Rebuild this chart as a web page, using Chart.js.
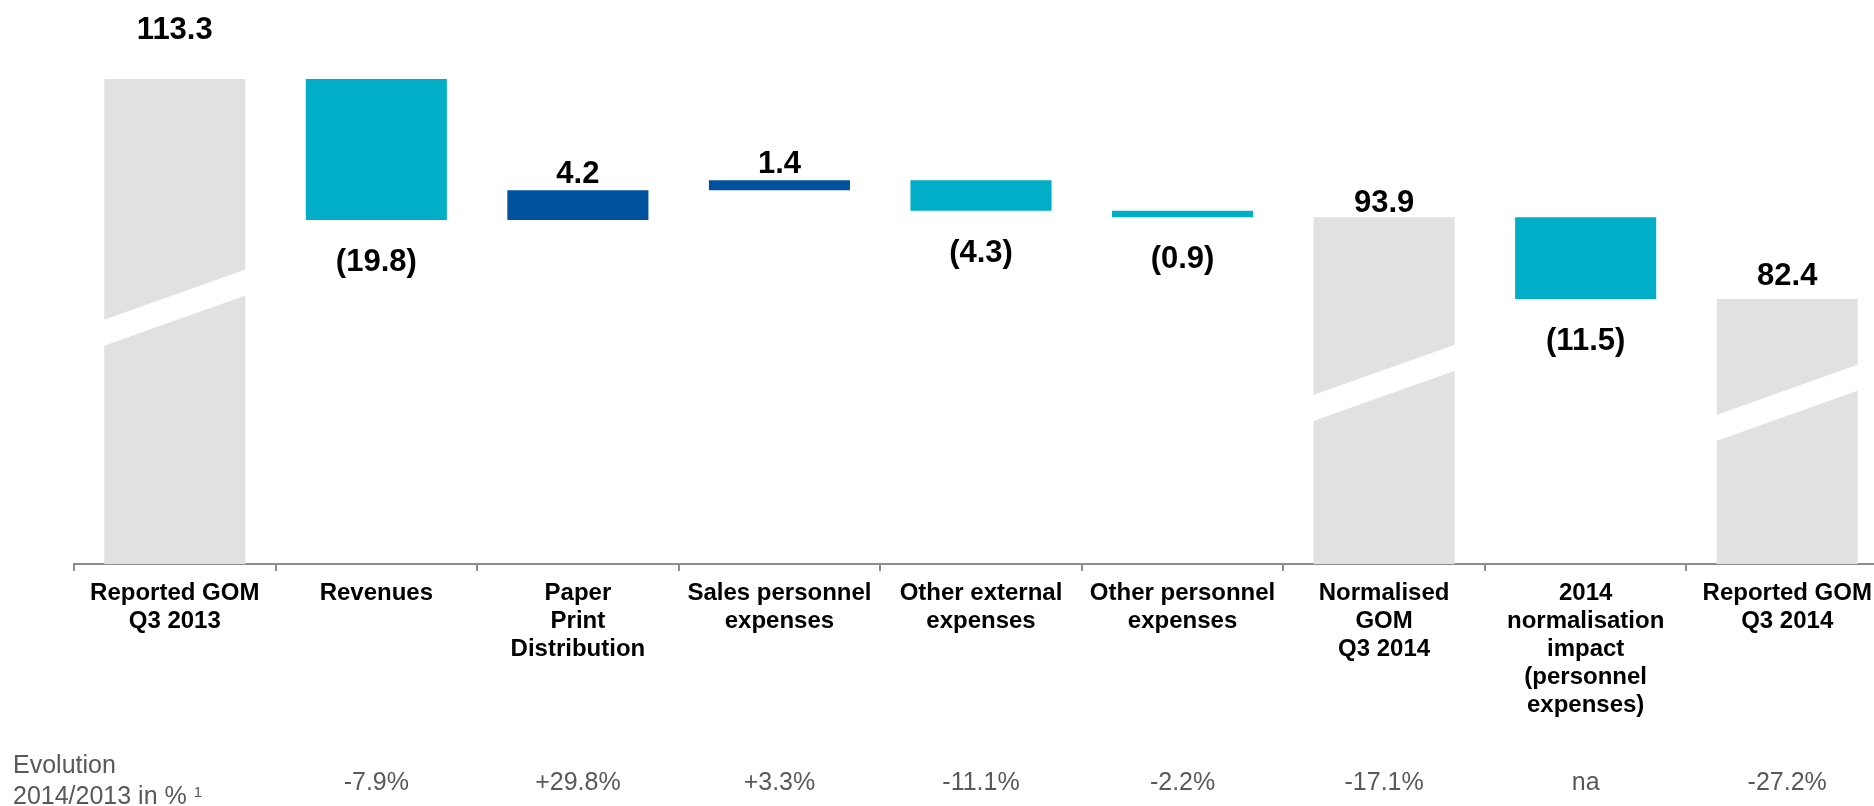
<!DOCTYPE html>
<html>
<head>
<meta charset="utf-8">
<script src="https://cdn.jsdelivr.net/npm/chart.js@4"></script>
<style>
  html, body { margin: 0; padding: 0; background: #fff; overflow: hidden; }
  #wrap { position: absolute; left: 0; top: 0; width: 1888px; height: 806px; }
</style>
</head>
<body>
<div id="wrap"><canvas id="chart"></canvas></div>
<script>
// Bridge categories (multi-line labels)
const categories = [
    ['Reported GOM', 'Q3 2013'],
    ['Revenues'],
    ['Paper', 'Print', 'Distribution'],
    ['Sales personnel', 'expenses'],
    ['Other external', 'expenses'],
    ['Other personnel', 'expenses'],
    ['Normalised', 'GOM', 'Q3 2014'],
    ['2014', 'normalisation', 'impact', '(personnel', 'expenses)'],
    ['Reported GOM', 'Q3 2014']
];

// Totals are absolute values, the rest are changes
const values = [113.3, -19.8, 4.2, 1.4, -4.3, -0.9, 93.9, -11.5, 82.4];
const isTotal = [true, false, false, false, false, false, true, false, true];
const valueLabels = ['113.3', '(19.8)', '4.2', '1.4', '(4.3)', '(0.9)', '93.9', '(11.5)', '82.4'];
const evolution = ['', '-7.9%', '+29.8%', '+3.3%', '-11.1%', '-2.2%', '-17.1%', 'na', '-27.2%'];

// Axis is broken: it starts well above zero
const yMin = 45.2;
const yMax = 124.4;
// value where the white break band cuts each total bar (left edge)
const breakAt = [79.45, null, null, null, null, null, 68.9, null, 66.1];

const GREY = '#e1e1e1';
const TEAL = '#00aec7';
const BLUE = '#00529f';

// Build floating bars from the running total
let running = 0;
const floating = values.map((v, i) => {
    if (isTotal[i]) {
        running = v;
        return [yMin, v];
    }
    const from = running;
    running += v;
    return [from, running];
});
const colors = values.map((v, i) => isTotal[i] ? GREY : (v < 0 ? TEAL : BLUE));

const bridgePlugin = {
    id: 'bridge',
    afterDatasetsDraw(chart) {
        const ctx = chart.ctx;
        const y = chart.scales.y;
        const x = chart.scales.x;
        const meta = chart.getDatasetMeta(0);
        const slope = 0.36;
        const gap = 26;
        const lift = [40, 0, 7, 7, 0, 0, 5, 0, 14];

        ctx.save();
        meta.data.forEach((bar, i) => {
            const left = bar.x - bar.width / 2;
            const right = bar.x + bar.width / 2;

            // break band on total bars
            if (breakAt[i] !== null) {
                const yl = y.getPixelForValue(breakAt[i]);
                const yr = yl - slope * bar.width;
                ctx.fillStyle = '#ffffff';
                ctx.beginPath();
                ctx.moveTo(left - 1, yl);
                ctx.lineTo(right + 1, yr);
                ctx.lineTo(right + 1, yr + gap);
                ctx.lineTo(left - 1, yl + gap);
                ctx.closePath();
                ctx.fill();
            }

            // value labels
            const [lo, hi] = floating[i];
            ctx.fillStyle = '#000000';
            ctx.font = 'bold 31px "Liberation Sans", Arial, sans-serif';
            ctx.textAlign = 'center';
            ctx.textBaseline = 'alphabetic';
            if (isTotal[i] || values[i] >= 0) {
                ctx.fillText(valueLabels[i], bar.x, y.getPixelForValue(Math.max(lo, hi)) - lift[i]);
            } else {
                ctx.fillText(valueLabels[i], bar.x, y.getPixelForValue(Math.min(lo, hi)) + 51);
            }
        });

        // evolution row under the categories
        ctx.fillStyle = '#595959';
        ctx.font = '25px "Liberation Sans", Arial, sans-serif';
        ctx.textAlign = 'left';
        ctx.fillText('Evolution', 13, 773);
        const line2 = '2014/2013 in %';
        ctx.fillText(line2, 13, 804);
        const w2 = ctx.measureText(line2 + ' ').width;
        ctx.font = '15px "Liberation Sans", Arial, sans-serif';
        ctx.fillText('1', 13 + w2, 797);

        ctx.font = '25px "Liberation Sans", Arial, sans-serif';
        ctx.textAlign = 'center';
        evolution.forEach((t, i) => {
            if (t) ctx.fillText(t, x.getPixelForValue(i), 790);
        });
        ctx.restore();
    }
};

new Chart(document.getElementById('chart'), {
    type: 'bar',
    data: {
        labels: categories,
        datasets: [{
            data: floating,
            backgroundColor: colors,
            borderWidth: 0,
            barPercentage: 0.70,
            categoryPercentage: 1.0
        }]
    },
    options: {
        responsive: true,
        maintainAspectRatio: false,
        animation: false,
        layout: { padding: { left: 74, right: 0, top: 0, bottom: 0 } },
        plugins: {
            legend: { display: false },
            tooltip: { enabled: false }
        },
        scales: {
            y: {
                display: false,
                min: yMin,
                max: yMax
            },
            x: {
                afterFit: (scale) => { scale.height = 242; },
                border: { display: true, color: '#8c8c8c', width: 2 },
                grid: {
                    offset: true,
                    drawOnChartArea: false,
                    drawTicks: true,
                    tickLength: 7,
                    color: '#8c8c8c',
                    lineWidth: 2
                },
                ticks: {
                    color: '#000000',
                    padding: 8,
                    maxRotation: 0,
                    autoSkip: false,
                    font: { family: '"Liberation Sans", Arial, sans-serif', size: 24, weight: 'bold', lineHeight: '28px' }
                }
            }
        }
    },
    plugins: [bridgePlugin]
});
</script>
</body>
</html>
